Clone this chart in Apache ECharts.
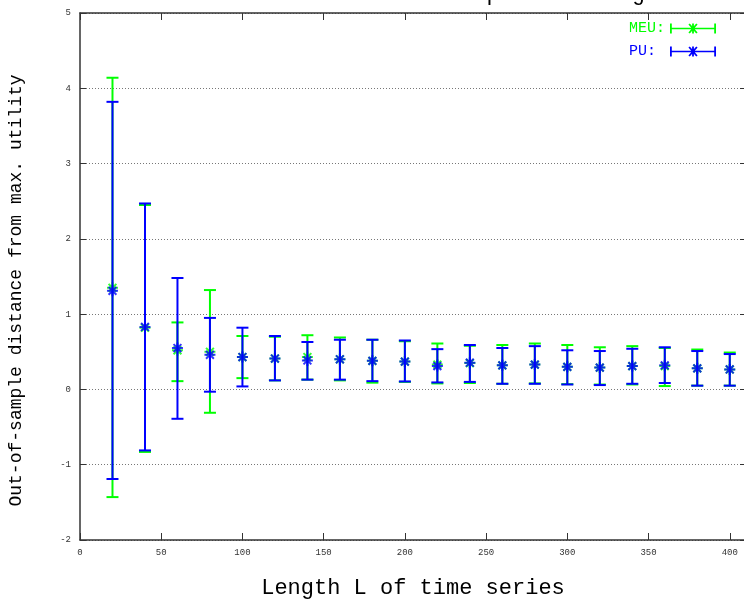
<!DOCTYPE html>
<html>
<head>
<meta charset="utf-8">
<script src="https://cdn.jsdelivr.net/npm/echarts@6/dist/echarts.min.js"></script>
<style>html,body{margin:0;padding:0;background:#fff;}#c{width:744px;height:599px;}</style>
</head>
<body>
<div id="c"></div>
<script>
var lengths = [20,40,60,80,100,120,140,160,180,200,220,240,260,280,300,320,340,360,380,400];
var meuMean = [1.35,0.82,0.52,0.50,0.43,0.41,0.43,0.40,0.38,0.37,0.33,0.35,0.32,0.33,0.30,0.29,0.31,0.31,0.28,0.265];
var meuLow  = [-1.43,-0.83,0.11,-0.31,0.15,0.12,0.13,0.12,0.09,0.10,0.08,0.085,0.075,0.08,0.07,0.065,0.066,0.045,0.05,0.05];
var meuHigh = [4.14,2.45,0.89,1.32,0.71,0.70,0.72,0.69,0.66,0.64,0.61,0.58,0.59,0.61,0.59,0.56,0.575,0.55,0.53,0.49];
var puMean  = [1.31,0.83,0.55,0.46,0.43,0.41,0.385,0.40,0.38,0.37,0.31,0.355,0.32,0.33,0.30,0.29,0.31,0.32,0.28,0.265];
var puLow   = [-1.19,-0.81,-0.39,-0.03,0.04,0.12,0.13,0.13,0.11,0.106,0.093,0.10,0.075,0.075,0.066,0.058,0.075,0.085,0.05,0.05];
var puHigh  = [3.82,2.47,1.48,0.95,0.82,0.71,0.63,0.66,0.66,0.65,0.535,0.59,0.55,0.575,0.52,0.51,0.54,0.56,0.51,0.47];
var xTicks = [0,50,100,150,200,250,300,350,400];
var yTicks = [-2,-1,0,1,2,3,4,5];
var titleText = 'Distance of MEU and PU at each sample size lag';
var xName = 'Length L of time series';
var yName = 'Out-of-sample distance from max. utility';

var MONO = '"Liberation Mono","DejaVu Sans Mono",monospace';
var GREEN = '#00ff00', BLUE = '#0000ff';
var STAR = 'path://M4.1 0H5.9V10H4.1Z M0 4.1H10V5.9H0Z M0.8 2.1L2.1 0.8L9.2 7.9L7.9 9.2Z M7.9 0.8L9.2 2.1L2.1 9.2L0.8 7.9Z';
var LEGEND_ICON = 'path://M0 5.2H46V6.8H0Z M0 1H1.8V11H0Z M44.2 1H46V11H44.2Z M22.1 1H23.9V11H22.1Z M18.4 2.1L19.8 1.1L27.6 9.9L26.2 10.9Z M26.2 1.1L27.6 2.1L19.8 10.9L18.4 9.9Z';

function bars(low, high) {
  return lengths.map(function (l, i) { return [l, low[i], high[i]]; });
}
function points(mean) {
  return lengths.map(function (l, i) { return [l, mean[i]]; });
}
function errorBar(color) {
  return function (params, api) {
    var x = api.value(0);
    var lo = api.coord([x, api.value(1)]);
    var hi = api.coord([x, api.value(2)]);
    var hw = 6;
    var st = { stroke: color, lineWidth: 2 };
    return { type: 'group', children: [
      { type: 'line', shape: { x1: lo[0], y1: lo[1], x2: hi[0], y2: hi[1] }, style: st },
      { type: 'line', shape: { x1: lo[0] - hw, y1: lo[1], x2: lo[0] + hw, y2: lo[1] }, style: st },
      { type: 'line', shape: { x1: hi[0] - hw, y1: hi[1], x2: hi[0] + hw, y2: hi[1] }, style: st }
    ]};
  };
}

var chart = echarts.init(document.getElementById('c'), null, { renderer: 'canvas' });
var axisLineStyle = { color: '#333', width: 1.5 };
chart.setOption({
  animation: false,
  backgroundColor: '#fff',
  graphic: [{
    type: 'text', x: 645, y: 5, z: 100,
    style: { text: titleText, font: '22px ' + MONO, fill: '#000', textAlign: 'right', textVerticalAlign: 'bottom' }
  }],
  grid: { left: 80, right: -2, top: 13, bottom: 59, containLabel: false, outerBoundsMode: 'none' },
  legend: {
    orient: 'vertical', left: 629, top: 21, padding: 0, itemGap: 8,
    itemWidth: 46, itemHeight: 11, align: 'right',
    textStyle: { fontFamily: MONO, fontSize: 15 },
    formatter: function (n) { return n === 'PU' ? 'PU: ' : n + ':'; },
    data: [
      { name: 'MEU', icon: LEGEND_ICON, itemStyle: { color: GREEN }, textStyle: { color: GREEN } },
      { name: 'PU', icon: LEGEND_ICON, itemStyle: { color: BLUE }, textStyle: { color: BLUE } }
    ]
  },
  xAxis: [{
    type: 'value', min: 0, max: 410, interval: 50, position: 'bottom',
    name: xName, nameLocation: 'middle', nameGap: 37,
    nameTextStyle: { fontFamily: MONO, fontSize: 22, color: '#000' },
    axisLine: { show: true, onZero: false, lineStyle: axisLineStyle },
    axisTick: { show: true, inside: true, length: 7, lineStyle: { color: '#333' } },
    axisLabel: { fontFamily: MONO, fontSize: 9, color: '#333', margin: 8, showMaxLabel: false,
      formatter: function (v) { return xTicks.indexOf(v) >= 0 ? String(v) : ''; } },
    splitLine: { show: false }
  }, {
    type: 'value', min: 0, max: 410, interval: 50, position: 'top',
    axisLine: { show: true, onZero: false, lineStyle: axisLineStyle },
    axisTick: { show: true, inside: true, length: 7, lineStyle: { color: '#333' } },
    axisLabel: { show: false }, splitLine: { show: false }
  }],
  yAxis: [{
    type: 'value', min: -2, max: 5, interval: 1, position: 'left',
    name: yName, nameLocation: 'middle', nameGap: 55, nameRotate: 90,
    nameTextStyle: { fontFamily: MONO, fontSize: 18, color: '#000', padding: [0, 28, 0, 0] },
    axisLine: { show: true, onZero: false, lineStyle: axisLineStyle },
    axisTick: { show: true, inside: true, length: 6, lineStyle: { color: '#333' } },
    axisLabel: { fontFamily: MONO, fontSize: 9, color: '#333', margin: 9,
      formatter: function (v) { return yTicks.indexOf(v) >= 0 ? String(v) : ''; } },
    splitLine: { show: true, lineStyle: { color: '#777', width: 1, type: [1, 2] } }
  }, {
    type: 'value', min: -2, max: 5, interval: 1, position: 'right',
    axisLine: { show: false, onZero: false, lineStyle: axisLineStyle },
    axisTick: { show: true, inside: true, length: 6, lineStyle: { color: '#333' } },
    axisLabel: { show: false }, splitLine: { show: false }
  }],
  series: [
    { name: 'MEU', type: 'custom', renderItem: errorBar(GREEN), data: bars(meuLow, meuHigh),
      encode: { x: 0, y: [1, 2] }, itemStyle: { color: GREEN }, z: 2 },
    { name: 'MEU', type: 'scatter', data: points(meuMean), symbol: STAR, symbolSize: 11,
      itemStyle: { color: GREEN }, z: 3 },
    { name: 'PU', type: 'custom', renderItem: errorBar(BLUE), data: bars(puLow, puHigh),
      encode: { x: 0, y: [1, 2] }, itemStyle: { color: BLUE }, z: 4 },
    { name: 'PU', type: 'scatter', data: points(puMean), symbol: STAR, symbolSize: 11,
      itemStyle: { color: BLUE }, z: 5 }
  ]
});
</script>
</body>
</html>
